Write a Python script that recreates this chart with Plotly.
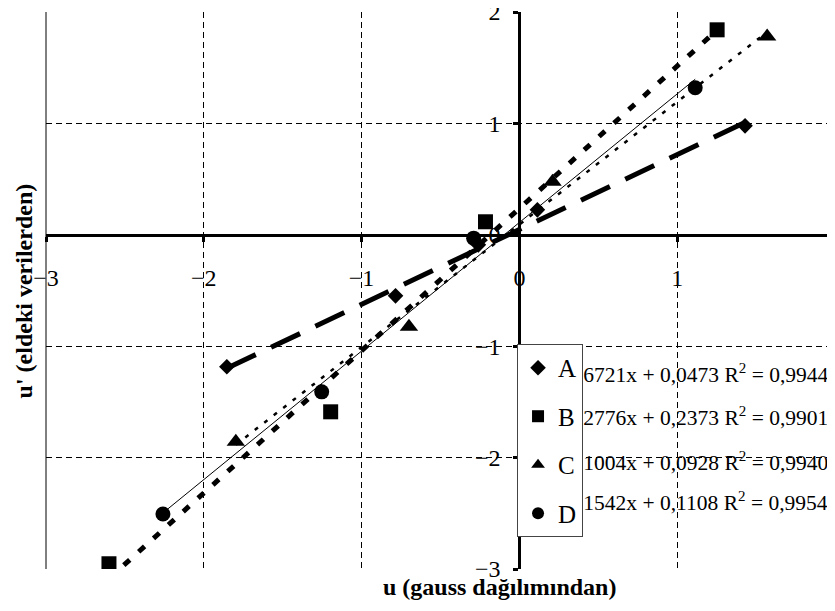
import plotly.graph_objects as go

# ---- data ----
names = ["A", "B", "C", "D"]
x_A = [-1.854, -0.785, -0.26, 0.114, 1.430]
y_A = [-1.185, -0.548, -0.09, 0.224, 0.978]
x_B = [-2.601, -1.196, -0.215, 1.253]
y_B = [-2.953, -1.589, 0.117, 1.840]
x_C = [-1.797, -0.700, 0.210, 1.570]
y_C = [-1.858, -0.826, 0.476, 1.780]
x_D = [-2.259, -1.253, -0.290, 1.114]
y_D = [-2.506, -1.410, -0.030, 1.320]

slopes = [0.6721, 1.2776, 1.1004, 1.1542]
intercepts = [0.0473, 0.2373, 0.0928, 0.1108]
r_squared = [0.9944, 0.9901, 0.9940, 0.9954]

x_ticks = [-3, -2, -1, 0, 1, 2]
y_ticks = [-3, -2, -1, 0, 1, 2]

# equation label anchors (data coords)
eq_x = [0.09, 0.09, 0.09, 0.09]
eq_y = [-1.275, -1.66, -2.065, -2.42]

xs = [x_A, x_B, x_C, x_D]
ys = [y_A, y_B, y_C, y_D]
symbols = ["diamond", "square", "triangle-up", "circle"]
msizes = [12, 15, 16, 15]
dashes = ["32px,17px", "8px,12px", "4px,8px", "solid"]
lwidths = [5, 5, 2.5, 1]

SERIF = "Liberation Serif"


def fmt(v):
    return f"{v:.4f}".replace(".", ",")


fig = go.Figure()

# trendlines
for i, n in enumerate(names):
    xl = [min(xs[i]), max(xs[i])]
    yl = [slopes[i] * v + intercepts[i] for v in xl]
    fig.add_trace(go.Scatter(x=xl, y=yl, mode="lines", showlegend=False, legendgroup=n,
                             line=dict(color="black", width=lwidths[i], dash=dashes[i]),
                             hoverinfo="skip"))

# equation texts (partly covered by the legend, as in the original)
eq_texts = [f"y = {fmt(slopes[i])}x + {fmt(intercepts[i])} R<sup>2</sup> = {fmt(r_squared[i])}"
            for i in range(4)]
fig.add_trace(go.Scatter(x=eq_x, y=eq_y, mode="text", text=eq_texts,
                         textposition="middle right", legendgroup="D",
                         textfont=dict(family=SERIF, size=21.5, color="black"),
                         showlegend=False, hoverinfo="skip"))

# data markers
for i, n in enumerate(names):
    fig.add_trace(go.Scatter(x=xs[i], y=ys[i], mode="markers", name=n, legendgroup=n,
                             marker=dict(symbol=symbols[i], size=msizes[i], color="black")))

axis_common = dict(
    range=[-3, 2], anchor="free", position=0.6,
    showgrid=True, gridcolor="black", gridwidth=1, griddash="6px,4px",
    zeroline=False, showline=True, linewidth=3, linecolor="black",
    ticks="outside", ticklen=5, tickwidth=3, tickcolor="black",
    tickfont=dict(family=SERIF, size=24, color="black"),
    ticklabeloverflow="allow",
    automargin=False, fixedrange=True,
)

fig.update_layout(
    width=827, height=603,
    margin=dict(l=38, r=0, t=4, b=42),
    paper_bgcolor="white", plot_bgcolor="white",
    font=dict(family=SERIF, color="black", size=22),
    xaxis=dict(tickvals=x_ticks, ticklabelstandoff=15, **axis_common),
    yaxis=dict(tickvals=y_ticks, ticklabelstandoff=8, **axis_common),
    legend=dict(x=0.597, y=0.404, xanchor="left", yanchor="top",
                bgcolor="white", bordercolor="#444", borderwidth=1,
                font=dict(family=SERIF, size=25, color="black"),
                tracegroupgap=13, itemsizing="constant"),
    shapes=[dict(type="line", xref="paper", yref="paper", x0=0, x1=0, y0=0, y1=1,
                 line=dict(color="black", width=1))],
    annotations=[
        dict(text="<b>u' (eldeki verilerden)</b>", xref="paper", yref="paper",
             x=-0.028, y=0.5, textangle=-90, showarrow=False,
             xanchor="center", yanchor="middle",
             font=dict(family=SERIF, size=24, color="black")),
        dict(text="<b>u (gauss dağılımından)</b>", xref="paper", yref="paper",
             x=0.575, y=-0.032, showarrow=False, xanchor="center", yanchor="middle",
             font=dict(family=SERIF, size=24, color="black")),
    ],
)

fig.write_html("out.html")
